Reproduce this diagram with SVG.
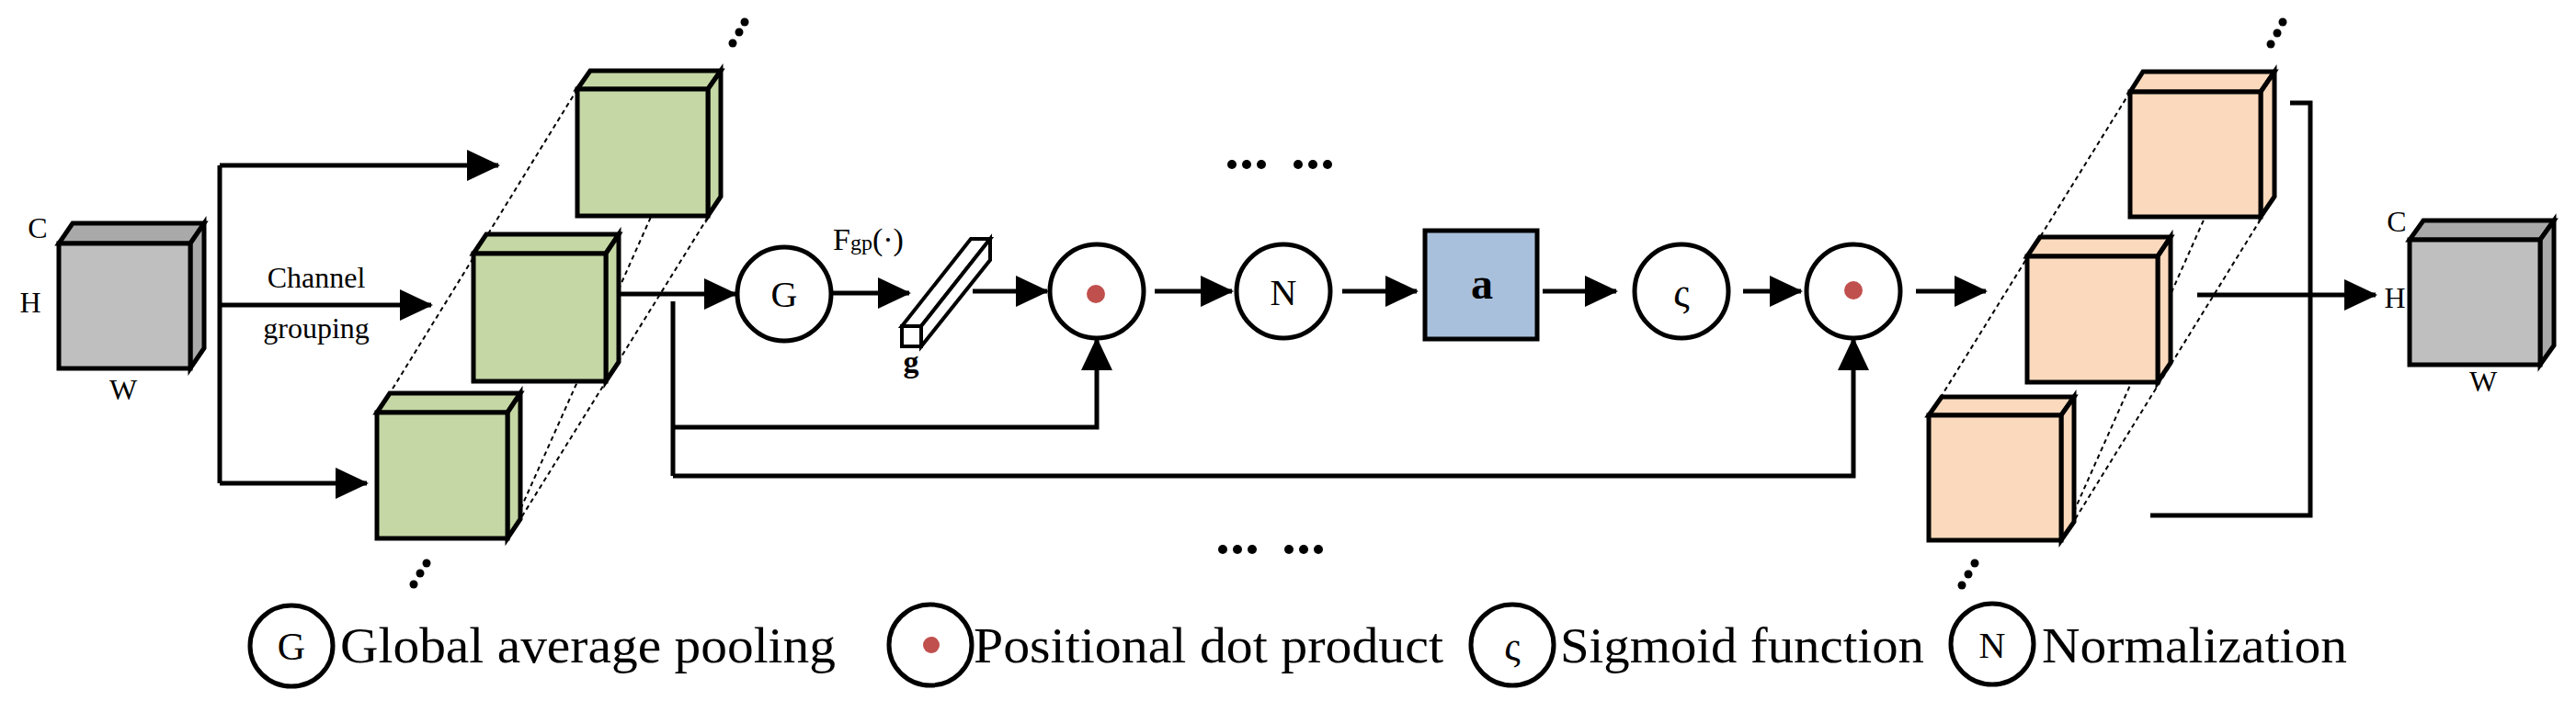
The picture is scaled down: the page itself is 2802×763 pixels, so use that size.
<svg xmlns="http://www.w3.org/2000/svg" width="2802" height="763" viewBox="0 0 2802 763">
<defs>
<marker id="ah" markerUnits="userSpaceOnUse" markerWidth="36" markerHeight="34" refX="34" refY="17" orient="auto"><path d="M0,0 L36,17 L0,34 Z" fill="#000"/></marker>
<style>
.ln{stroke:#000;stroke-width:5;fill:none}
.ar{stroke:#000;stroke-width:5;fill:none;marker-end:url(#ah)}
.ds{stroke:#000;stroke-width:2;stroke-dasharray:5,4;fill:none}
.cb{stroke:#000;stroke-width:5;stroke-linejoin:miter}
.t{font-family:"Liberation Serif",serif;fill:#000}
.nd{fill:#fff;stroke:#000;stroke-width:5}
</style>
</defs>
<rect width="2802" height="763" fill="#fff"/>
<g id="input">
<path class="cb" fill="#a9a9a9" d="M64,265 L79,243 L222,243 L207,265 Z"/>
<path class="cb" fill="#a9a9a9" d="M207,265 L222,243 L222,379 L207,401 Z"/>
<rect class="cb" x="64" y="265" width="143" height="136" fill="#bfbfbf"/>
<text class="t" x="41" y="259" font-size="32" text-anchor="middle">C</text>
<text class="t" x="33" y="340" font-size="32" text-anchor="middle">H</text>
<text class="t" x="134" y="435" font-size="32" text-anchor="middle">W</text>
</g>
<g id="green">
<path class="ds" d="M628,97 L424,428 M770,97 L552,586 M784,214 L566,565"/>
<g fill="#c4d7a4">
<path class="cb" d="M628,97 L642,77 L784,77 L770,97 Z"/><path class="cb" d="M770,97 L784,77 L784,214 L770,235 Z"/><rect class="cb" x="628" y="97" width="142" height="138"/>
<path class="cb" d="M515,276 L529,255 L673,255 L659,276 Z"/><path class="cb" d="M659,276 L673,255 L673,394 L659,415 Z"/><rect class="cb" x="515" y="276" width="144" height="139"/>
<path class="cb" d="M410,449 L424,428 L566,428 L552,449 Z"/><path class="cb" d="M552,449 L566,428 L566,565 L552,586 Z"/><rect class="cb" x="410" y="449" width="142" height="137"/>
</g>
<g fill="#000"><circle cx="810" cy="24" r="4.5"/><circle cx="804" cy="35" r="4.5"/><circle cx="797" cy="47" r="4.5"/>
<circle cx="464" cy="613" r="4.5"/><circle cx="457" cy="624" r="4.5"/><circle cx="450" cy="636" r="4.5"/></g>
</g>
<g id="connectors">
<path class="ln" d="M239,180 L239,526"/>
<path class="ar" d="M239,180 L542,180"/>
<path class="ar" d="M239,332 L469,332"/>
<path class="ar" d="M239,526 L399,526"/>
<path class="ar" d="M675,320 L800,320"/>
<path class="ln" d="M732,328 L732,518"/>
<path class="ar" d="M732,465 L1193,465 L1193,369"/>
<path class="ar" d="M732,518 L2016,518 L2016,369"/>
<path class="ar" d="M906,319 L989,319"/>
<path class="ar" d="M1058,317 L1139,317"/>
<path class="ar" d="M1256,317 L1340,317"/>
<path class="ar" d="M1460,317 L1541,317"/>
<path class="ar" d="M1678,317 L1758,317"/>
<path class="ar" d="M1896,317 L1959,317"/>
<path class="ar" d="M2084,317 L2160,317"/>
<path class="ln" d="M2491,112 L2513,112 L2513,561 L2339,561"/>
<path class="ar" d="M2390,321 L2584,321"/>
</g>
<g id="channel-label"><text class="t" x="344" y="313" font-size="32" text-anchor="middle">Channel</text><text class="t" x="344" y="368" font-size="32" text-anchor="middle">grouping</text></g>
<g id="G"><circle class="nd" cx="853" cy="320" r="51"/><text class="t" x="853" y="334" font-size="40" text-anchor="middle">G</text></g>
<g id="fgp"><text class="t" x="906" y="272" font-size="34">F<tspan font-size="24">gp</tspan>(·)</text></g>
<g id="g-vector">
<path d="M981,355 L1056,260 L1077,260 L1002,355 Z" fill="#fff" stroke="#000" stroke-width="4"/>
<path d="M1002,355 L1077,260 L1077,283 L1002,377 Z" fill="#fff" stroke="#000" stroke-width="4"/>
<rect x="981" y="355" width="21" height="22" fill="#fff" stroke="#000" stroke-width="4"/>
<text class="t" x="991" y="405" font-size="34" font-weight="bold" text-anchor="middle">g</text>
</g>
<g id="dot1"><circle class="nd" cx="1193" cy="317" r="51"/><circle cx="1192" cy="320" r="10" fill="#c0504d"/></g>
<g id="N"><circle class="nd" cx="1396" cy="317" r="51"/><text class="t" x="1396" y="332" font-size="40" text-anchor="middle">N</text></g>
<g id="a"><rect x="1550" y="251" width="122" height="118" fill="#a9c0dc" stroke="#000" stroke-width="5"/><text class="t" x="1612" y="325" font-size="48" font-weight="bold" text-anchor="middle">a</text></g>
<g id="S"><circle class="nd" cx="1829" cy="317" r="51"/><text class="t" x="1829" y="333" font-size="44" text-anchor="middle">ς</text></g>
<g id="dot2"><circle class="nd" cx="2016" cy="317" r="51"/><circle cx="2016" cy="316" r="10" fill="#c0504d"/></g>
<g id="ellipsis" fill="#000">
<circle cx="1340" cy="179" r="5"/><circle cx="1356" cy="179" r="5"/><circle cx="1372" cy="179" r="5"/>
<circle cx="1412" cy="179" r="5"/><circle cx="1428" cy="179" r="5"/><circle cx="1444" cy="179" r="5"/>
<circle cx="1330" cy="598" r="5"/><circle cx="1346" cy="598" r="5"/><circle cx="1362" cy="598" r="5"/>
<circle cx="1402" cy="598" r="5"/><circle cx="1418" cy="598" r="5"/><circle cx="1434" cy="598" r="5"/>
</g>
<g id="peach">
<path class="ds" d="M2317,100 L2100,450 M2459,100 L2242,588 M2473,216 L2256,567"/>
<g fill="#fad9bc">
<path class="cb" d="M2317,100 L2331,78 L2474,78 L2459,100 Z"/><path class="cb" d="M2459,100 L2474,78 L2474,214 L2459,236 Z"/><rect class="cb" x="2317" y="100" width="142" height="136"/>
<path class="cb" d="M2205,279 L2219,258 L2361,258 L2347,279 Z"/><path class="cb" d="M2347,279 L2361,258 L2361,395 L2347,416 Z"/><rect class="cb" x="2205" y="279" width="142" height="137"/>
<path class="cb" d="M2098,452 L2112,432 L2256,432 L2242,452 Z"/><path class="cb" d="M2242,452 L2256,432 L2256,568 L2242,588 Z"/><rect class="cb" x="2098" y="452" width="144" height="136"/>
</g>
<g fill="#000"><circle cx="2483" cy="24" r="4.5"/><circle cx="2477" cy="36" r="4.5"/><circle cx="2470" cy="48" r="4.5"/>
<circle cx="2148" cy="613" r="4.5"/><circle cx="2141" cy="625" r="4.5"/><circle cx="2134" cy="637" r="4.5"/></g>
</g>
<g id="output">
<path class="cb" fill="#a9a9a9" d="M2621,261 L2636,240 L2778,240 L2763,261 Z"/>
<path class="cb" fill="#a9a9a9" d="M2763,261 L2778,240 L2778,376 L2763,397 Z"/>
<rect class="cb" x="2621" y="261" width="142" height="136" fill="#bfbfbf"/>
<text class="t" x="2607" y="252" font-size="32" text-anchor="middle">C</text>
<text class="t" x="2605" y="335" font-size="32" text-anchor="middle">H</text>
<text class="t" x="2701" y="426" font-size="32" text-anchor="middle">W</text>
</g>
<g id="legend">
<ellipse class="nd" cx="317" cy="703" rx="45" ry="44"/><text class="t" x="317" y="718" font-size="42" text-anchor="middle">G</text>
<text class="t" x="370" y="721" font-size="54" textLength="539" lengthAdjust="spacingAndGlyphs">Global average pooling</text>
<ellipse class="nd" cx="1012" cy="702" rx="45" ry="44"/><circle cx="1013" cy="702" r="9" fill="#c0504d"/>
<text class="t" x="1059" y="721" font-size="54" textLength="511" lengthAdjust="spacingAndGlyphs">Positional dot product</text>
<ellipse class="nd" cx="1645" cy="702" rx="45" ry="44"/><text class="t" x="1645" y="718" font-size="44" text-anchor="middle">ς</text>
<text class="t" x="1697" y="721" font-size="54" textLength="396" lengthAdjust="spacingAndGlyphs">Sigmoid function</text>
<ellipse class="nd" cx="2167" cy="701" rx="45" ry="44"/><text class="t" x="2167" y="716" font-size="40" text-anchor="middle">N</text>
<text class="t" x="2221" y="721" font-size="54" textLength="332" lengthAdjust="spacingAndGlyphs">Normalization</text>
</g>
</svg>
